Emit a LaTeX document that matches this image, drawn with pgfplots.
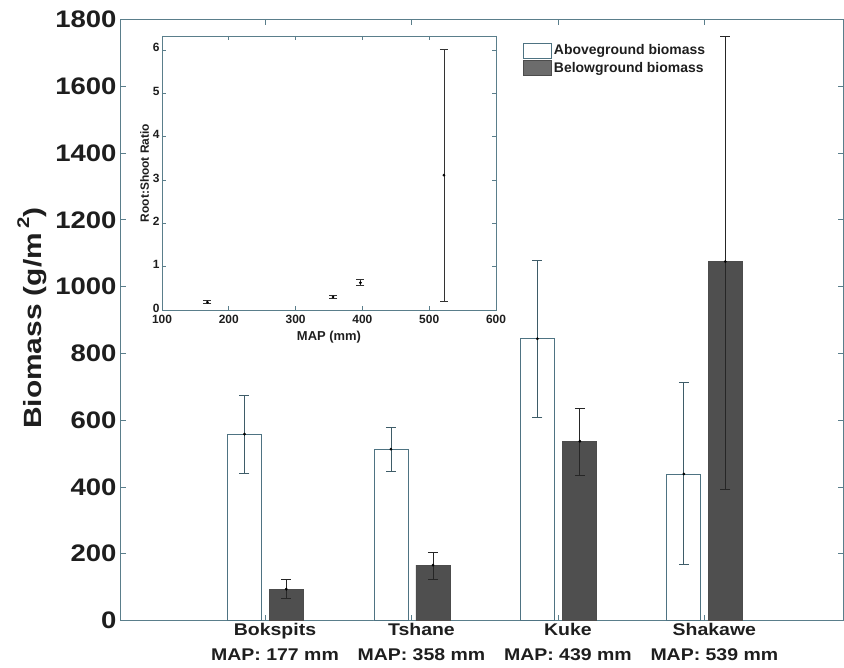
\documentclass[border=0pt]{standalone}
\usepackage{fontspec}
\setmainfont{Liberation Sans}
\newfontfamily\wide{Liberation Sans}[FakeStretch=1.15]
\newfontfamily\wider{Liberation Sans}[FakeStretch=1.2]
\usepackage{pgfplots}
\pgfplotsset{compat=1.18}
\definecolor{axc}{HTML}{5A7E8B}
\definecolor{barfill}{HTML}{4F4F4F}
\definecolor{baredge}{HTML}{4E7382}
\definecolor{txt}{HTML}{1E1E1E}
\begin{document}
\begin{tikzpicture}
\useasboundingbox (0,0) rectangle (844bp,668bp);
\begin{axis}[
  at={(120bp,47.5bp)}, anchor=south west,
  width=723.5bp, height=601bp, scale only axis,
  xmin=0.01, xmax=4.95, ymin=0, ymax=1800,
  xtick={1,2,3,4},
  xticklabels={{Bokspits\\MAP: 177 mm},{Tshane\\MAP: 358 mm},{Kuke\\MAP: 439 mm},{Shakawe\\MAP: 539 mm}},
  xticklabel style={align=center, text=txt, font=\wide\bfseries\fontsize{17}{25}\selectfont, yshift=1bp, xshift=10bp},
  ytick={0,200,...,1800},
  yticklabel style={text=txt, font=\wide\bfseries\fontsize{24}{28}\selectfont},
  /pgf/number format/assume math mode=true,
  /pgf/number format/set thousands separator={},
  tick align=inside, major tick length=6bp,
  axis line style={axc, line width=0.8bp},
  every tick/.style={axc, line width=0.8bp},
  ylabel={Biomass (g/m\,\raisebox{0.5em}{\fontsize{17}{17}\selectfont 2})},
  ylabel style={at={(axis description cs:-0.1216,0.503)}, anchor=center, text=txt, font=\wider\bfseries\fontsize{25}{28}\selectfont},
  legend style={at={(0.557,0.962)}, anchor=north west, draw=none, fill=none,
    font=\bfseries\fontsize{14}{16}\selectfont, text=txt, row sep=2bp, inner sep=0pt},
  legend cell align=left,
]
\addplot[ybar, bar width=34bp, bar shift=0pt, draw=baredge, fill=white, line width=0.8bp,
  legend image code/.code={\draw[draw=baredge, fill=white, line width=0.8bp] (0bp,-7.5bp) rectangle (28bp,7.5bp);}]
  coordinates {(0.86,558) (1.86,513) (2.86,844) (3.86,439)};
\addlegendentry{Aboveground biomass}
\addplot[ybar, bar width=34bp, bar shift=0pt, draw=black!70, fill=barfill, line width=0.8bp,
  legend image code/.code={\draw[draw=black!70, fill=gray!85!black, line width=0.8bp] (0bp,-7.5bp) rectangle (28bp,7.5bp);}]
  coordinates {(1.145,94) (2.147,166) (3.15,537) (4.143,1075)};
\addlegendentry{Belowground biomass}
\addplot[forget plot, only marks, mark=*, mark size=1.2bp, color=black,
  error bars/.cd, y dir=both, y explicit,
  error bar style={color=baredge!80!black, line width=0.8bp},
  error mark options={rotate=90, mark size=5bp, line width=0.8bp, color=baredge!80!black}]
  coordinates {(0.86,558) +- (0,117) (1.86,513) +- (0,66) (2.86,844) += (0,234) -= (0,237) (3.86,439) += (0,273) -= (0,271)};
\addplot[forget plot, only marks, mark=*, mark size=1.2bp, color=black,
  error bars/.cd, y dir=both, y explicit,
  error bar style={color=black!85, line width=0.8bp},
  error mark options={rotate=90, mark size=5bp, line width=0.8bp, color=black!85}]
  coordinates {(1.145,94) +- (0,29) (2.147,166) += (0,38) -= (0,43) (3.15,537) += (0,99) -= (0,102) (4.143,1075) += (0,674) -= (0,681)};
\end{axis}
\begin{axis}[
  at={(162bp,358bp)}, anchor=south west,
  width=334bp, height=274bp, scale only axis,
  xmin=100, xmax=600, ymin=0, ymax=6.32,
  xtick={100,200,...,600}, ytick={0,1,...,6},
  axis background/.style={fill=white},
  tick align=inside, major tick length=4bp,
  axis line style={axc, line width=0.7bp},
  every tick/.style={axc, line width=0.7bp},
  /pgf/number format/assume math mode=true,
  ticklabel style={text=txt, font=\bfseries\fontsize{12}{14}\selectfont},
  xticklabel style={yshift=-2bp},
  yticklabel style={xshift=1bp, yshift=2bp},
  xlabel={MAP (mm)}, ylabel={Root:Shoot Ratio},
  xlabel style={text=txt, font=\bfseries\fontsize{13}{15}\selectfont, yshift=0bp},
  ylabel style={text=txt, font=\bfseries\fontsize{12}{14}\selectfont, yshift=-3bp},
]
\addplot[only marks, mark=*, mark size=1.2bp, color=black,
  error bars/.cd, y dir=both, y explicit,
  error bar style={color=black!80, line width=0.8bp},
  error mark options={rotate=90, mark size=4bp, line width=0.8bp, color=black!80}]
  coordinates {(168,0.18) +- (0,0.03) (356,0.30) +- (0,0.03) (397,0.63) +- (0,0.07) (522,3.11) += (0,2.91) -= (0,2.92)};
\end{axis}
\end{tikzpicture}
\end{document}
